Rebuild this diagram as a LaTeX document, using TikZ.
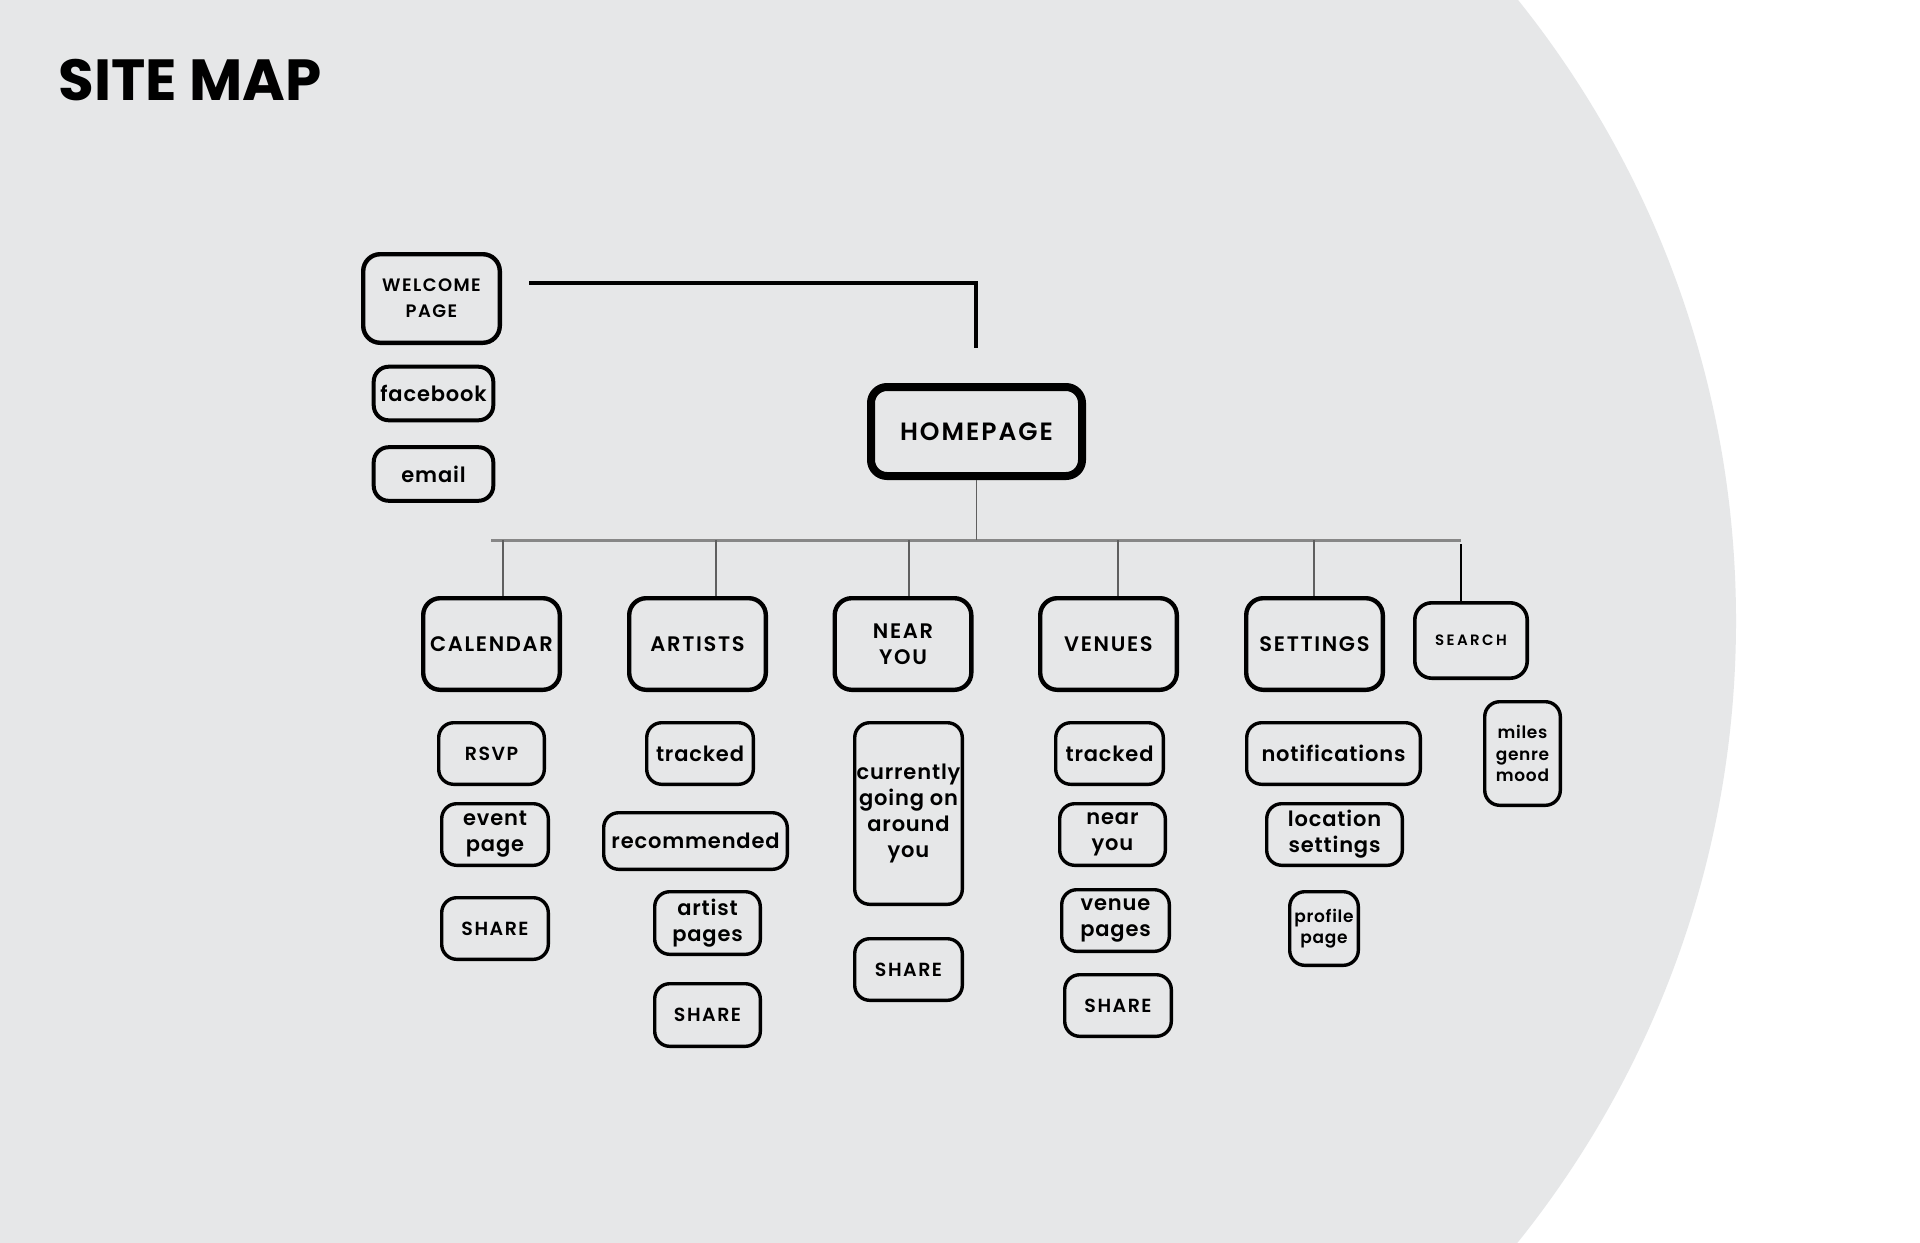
\documentclass[tikz,border=0pt]{standalone}
\usepackage{fontspec}
\usepackage{tikz}
\usetikzlibrary{positioning, calc}
\setmainfont{Poppins}
\newfontfamily\titlefont{Poppins Bold}
\newfontfamily\capfont{Poppins SemiBold}[LetterSpace=8]
\newfontfamily\lowfont{Poppins SemiBold}[LetterSpace=4]
\definecolor{pagegray}{RGB}{230, 231, 232}
\definecolor{busgray}{RGB}{135, 135, 135}
\definecolor{dropgray}{RGB}{95, 95, 95}

\begin{document}
\begin{tikzpicture}[
    x=0.5pt, y=-0.5pt,
    home/.style={draw, line width=4pt, rounded corners=8pt, inner sep=0pt,
                 minimum width=105.5pt, minimum height=44.5pt,
                 font=\capfont\fontsize{12.5}{14}\selectfont},
    section/.style={draw, line width=2.2pt, rounded corners=8.5pt, inner sep=0pt,
                    minimum width=68.3pt, minimum height=45.8pt, align=center,
                    font=\capfont\fontsize{10.5}{13}\selectfont},
    page/.style={draw, line width=1.7pt, rounded corners=7.5pt, inner sep=0pt,
                 minimum width=53pt, minimum height=30.8pt, align=center,
                 font=\lowfont\fontsize{10.5}{13}\selectfont},
    share/.style={page, font=\capfont\fontsize{9.5}{12}\selectfont},
    bus/.style={busgray, line width=1.5pt},
    drop/.style={dropgray, line width=0.9pt},
]

% Background
\fill[white] (0,0) rectangle (1920,1242);
\begin{scope}
  \clip (0,0) rectangle (1920,1242);
  \fill[pagegray] (742.5,621) circle[radius=993.5];
\end{scope}
\useasboundingbox (0,0) rectangle (1920,1242);

% Title
\node[anchor=base west, inner sep=0pt, font=\titlefont\fontsize{29}{31}\selectfont]
    (title) at (58,100) {SITE MAP};

% Entry
\node[section, font=\capfont\fontsize{9}{13}\selectfont, minimum height=44.3pt,
      text width=66pt] (welcome) at (431.5,298.5) {WELCOME\\PAGE};
\node[page, line width=2pt, minimum width=59.8pt, minimum height=26.8pt] (facebook) at (433.5,393.5) {facebook};
\node[page, line width=2pt, minimum width=59.8pt, minimum height=26.8pt] (email) at (433.5,474) {email};
\node[home] (homepage) at (976.5,431.5) {HOMEPAGE};

\coordinate (wstart) at (529,283);
\coordinate (wend) at (976,348);
\draw[line width=1.8pt] (wstart) -| (wend);

% Sections
\node[section] (calendar) at (491.5,644) {CALENDAR};
\node[section] (artists) at (697.5,644) {ARTISTS};
\node[section] (nearyou) at (903,644) {NEAR\\YOU};
\node[section] (venues) at (1108.5,644) {VENUES};
\node[section] (settings) at (1314.5,644) {SETTINGS};
\node[section, line width=1.8pt, minimum width=56.2pt, minimum height=37.7pt,
      font=\capfont\addfontfeature{LetterSpace=16}\fontsize{7.5}{9}\selectfont]
    (search) at (1471,640.5) {SEARCH};

% Bus
\coordinate (busL) at (491,540);
\coordinate (busR) at (1461,540);
\draw[bus] (busL) -- (busR);
\draw[drop] (homepage.south) -- (homepage.south |- busL);

\coordinate (d1) at (503,540);
\coordinate (d2) at (716,540);
\coordinate (d3) at (909,540);
\coordinate (d4) at (1118,540);
\coordinate (d5) at (1314,540);
\coordinate (d6) at (1461,544);
\draw[drop] (d1) -- (d1 |- calendar.north);
\draw[drop] (d2) -- (d2 |- artists.north);
\draw[drop] (d3) -- (d3 |- nearyou.north);
\draw[drop] (d4) -- (d4 |- venues.north);
\draw[drop] (d5) -- (d5 |- settings.north);
\draw[black, line width=1pt] (d6) -- (d6 |- search.north);

% Calendar pages
\node[share, minimum width=52.8pt] (rsvp) at (491.5,753.5) {RSVP};
\node[page, minimum width=53.3pt] (event) at (495,834.5) {event\\page};
\node[share, minimum width=53.3pt] (calshare) at (495,928.5) {SHARE};

% Artist pages
\node[page, minimum width=53.3pt] (arttracked) at (700,753.5) {tracked};
\node[page, minimum width=91.8pt, minimum height=28.3pt] (recommended) at (695.5,841) {recommended};
\node[page, minimum width=52.8pt, minimum height=31.3pt] (artistpages) at (707.5,923) {artist\\pages};
\node[share, minimum width=52.8pt, minimum height=31.3pt] (artshare) at (707.5,1015) {SHARE};

% Near you pages
\node[page, minimum width=53.8pt, minimum height=90.8pt] (current) at (908.5,813.5) {currently\\going on\\around\\you};
\node[share, minimum width=53.8pt] (nearshare) at (908.5,969.5) {SHARE};

% Venue pages
\node[page, minimum width=53.8pt] (ventracked) at (1109.5,753.5) {tracked};
\node[page, minimum width=52.8pt] (vennear) at (1112.5,834.5) {near\\you};
\node[page, minimum width=53.8pt] (venuepages) at (1115.5,920.5) {venue\\pages};
\node[share, minimum width=53.3pt] (venshare) at (1118,1005.5) {SHARE};

% Settings pages
\node[page, minimum width=86.8pt] (notifications) at (1333.5,753.5) {notifications};
\node[page, minimum width=67.8pt] (location) at (1334.5,834.5) {location\\settings};
\node[page, minimum width=34.3pt, minimum height=36.8pt,
      font=\lowfont\fontsize{8.5}{10.4}\selectfont] (profile) at (1324,928.5) {profile\\page};

% Search filters
\node[page, minimum width=37.8pt, minimum height=51.8pt,
      font=\lowfont\fontsize{8.5}{10.7}\selectfont] (filters) at (1522.5,753.5) {miles\\genre\\mood};

\end{tikzpicture}
\end{document}
